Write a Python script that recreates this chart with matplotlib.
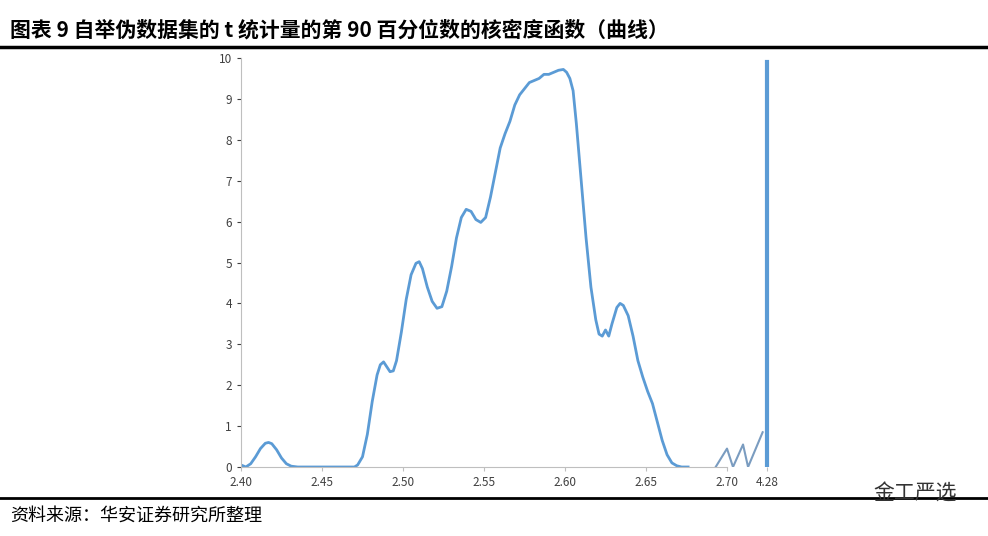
import matplotlib
matplotlib.use("Agg")
import matplotlib.pyplot as plt
from matplotlib.lines import Line2D

plt.rcParams['font.family'] = ['Noto Sans CJK SC', 'DejaVu Sans']

x = [2.400, 2.403, 2.406, 2.409, 2.412, 2.415, 2.417, 2.419, 2.422, 2.425, 2.428, 2.431, 2.435,
     2.470, 2.472, 2.475, 2.478, 2.481, 2.484, 2.486, 2.488, 2.490, 2.492, 2.494, 2.496,
     2.499, 2.502, 2.505, 2.508, 2.510, 2.512, 2.515, 2.518, 2.521, 2.524, 2.527, 2.530,
     2.533, 2.536, 2.539, 2.542, 2.545, 2.548, 2.551, 2.554, 2.557, 2.560, 2.563, 2.566,
     2.569, 2.572, 2.575, 2.578, 2.581, 2.584, 2.587, 2.590, 2.593, 2.596, 2.599, 2.601,
     2.603, 2.605, 2.607, 2.610, 2.613, 2.616, 2.619, 2.621, 2.623, 2.625, 2.627, 2.629,
     2.632, 2.634, 2.636, 2.639, 2.642, 2.645, 2.648, 2.651, 2.654, 2.657, 2.660, 2.663,
     2.666, 2.669, 2.672, 2.676]
y = [0.05, 0.0, 0.08, 0.25, 0.45, 0.58, 0.6, 0.57, 0.42, 0.22, 0.08, 0.02, 0.0,
     0.0, 0.05, 0.25, 0.8, 1.6, 2.25, 2.5, 2.57, 2.45, 2.33, 2.35, 2.6,
     3.3, 4.1, 4.7, 4.98, 5.02, 4.85, 4.4, 4.05, 3.88, 3.92, 4.3, 4.9,
     5.6, 6.1, 6.3, 6.25, 6.05, 5.98, 6.1, 6.6, 7.2, 7.8, 8.15, 8.45,
     8.85, 9.1, 9.25, 9.4, 9.45, 9.5, 9.6, 9.6, 9.65, 9.7, 9.72, 9.65,
     9.5, 9.2, 8.4, 7.0, 5.6, 4.4, 3.6, 3.25, 3.2, 3.35, 3.2, 3.5,
     3.9, 4.0, 3.95, 3.7, 3.2, 2.6, 2.2, 1.85, 1.55, 1.1, 0.65, 0.3,
     0.1, 0.03, 0.0, 0.0]
zig_x = [2.693, 2.700, 2.7037, 2.7099, 2.713, 2.722]
zig_y = [0.0, 0.45, 0.0, 0.55, 0.0, 0.85]
bar_x = 2.7247
bar_y = 9.9
xticks = [2.40, 2.45, 2.50, 2.55, 2.60, 2.65, 2.70]
xlabels = ['2.40', '2.45', '2.50', '2.55', '2.60', '2.65', '2.70']

fig = plt.figure(figsize=(9.88, 5.36), dpi=100)
ax = fig.add_axes([241/988, 69/536, (775-241)/988, (467-58)/536])
col = '#5b9bd5'
ax.plot(x, y, color=col, lw=2, solid_joinstyle='round')
ax.plot(zig_x, zig_y, color='#7a9cc0', lw=1.5)
ax.plot([bar_x, bar_x], [0, bar_y], color=col, lw=3)
ax.set_xlim(2.40, 2.40 + (775-241)/81*0.05)
ax.set_ylim(0, 10)
ax.set_yticks(range(0, 11))
ax.set_xticks(xticks + [bar_x])
ax.set_xticklabels(xlabels + ['4.28'])
ax.tick_params(labelsize=8.5, colors='#404040', length=3)
ax.tick_params(axis='x', colors='#bfbfbf', labelcolor='#404040')
for s in ['top', 'right']:
    ax.spines[s].set_visible(False)
ax.spines['left'].set_color('#bfbfbf')
ax.spines['bottom'].set_color('#bfbfbf')
ax.spines['bottom'].set_bounds(2.40, 2.7)

fig.text(10/988, 1 - 30/536, '图表 9 自举伪数据集的 t 统计量的第 90 百分位数的核密度函数（曲线）',
         fontsize=15, fontweight='bold', va='center', ha='left')
fig.add_artist(Line2D([0, 1], [1 - 47/536, 1 - 47/536], color='black', lw=2.5))
fig.add_artist(Line2D([0, 1], [1 - 498/536, 1 - 498/536], color='black', lw=2))
fig.text(10/988, 1 - 516/536, '资料来源：华安证券研究所整理', fontsize=13, va='center', ha='left')
fig.text(957/988, 1 - 494/536, '金工严选', fontsize=15, va='center', ha='right', color='#333333')
fig.savefig('out.png', dpi=100)
